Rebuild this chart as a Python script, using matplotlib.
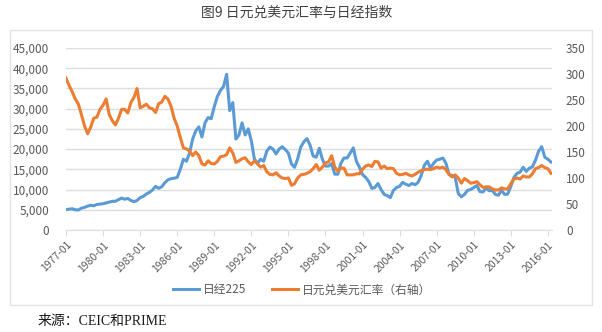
import numpy as np
import matplotlib.pyplot as plt
from matplotlib.patches import Rectangle
from matplotlib.ticker import FuncFormatter

plt.rcParams['font.family'] = ['Noto Sans CJK SC', 'DejaVu Sans']

# quarterly readings (Jan / Apr / Jul / Oct), 1977-01 .. 2016-04
nikkei = [
    5050, 5150, 5250, 5000,
    4950, 5400, 5600, 5900,
    6100, 6000, 6300, 6400,
    6500, 6700, 6900, 7100,
    7100, 7500, 7900, 7600,
    7800, 7300, 7000, 7300,
    8000, 8300, 8900, 9300,
    9900, 10800, 10300, 10700,
    11700, 12400, 12700, 12800,
    13000, 15000, 17500, 17000,
    19000, 22500, 24500, 25500,
    23000, 26500, 27800, 27500,
    30500, 33000, 34500, 35500,
    38500, 29500, 31500, 22500,
    23500, 26500, 23500, 25000,
    22000, 17500, 16500, 17500,
    17000, 19500, 20500, 20000,
    18800, 20000, 20600, 19900,
    19000, 16300, 15500, 17600,
    20500, 21800, 22600, 21000,
    18300, 18000, 20200, 17500,
    15800, 15800, 16400, 13800,
    13800, 16500, 17800, 17800,
    19000, 20300, 17000, 15500,
    13700, 13000, 12000, 10300,
    10500, 11500, 10000, 8800,
    8500, 8000, 9800, 10500,
    10800, 11800, 11300, 11000,
    11500, 11200, 11800, 13500,
    16000, 17000, 15300, 16500,
    17300, 17500, 17800, 16500,
    13700, 13500, 13000, 9000,
    8200, 8800, 9800, 10000,
    10500, 11000, 9500, 9400,
    10400, 9700, 9800, 8800,
    8600, 9800, 8800, 8900,
    10800, 13000, 14000, 14300,
    15500, 14500, 15300, 15600,
    17300, 19500, 20600, 18000,
    17500, 16800,
]
usdjpy = [
    292, 278, 266, 252,
    242, 222, 200, 185,
    198, 215, 217, 232,
    240, 252, 222, 210,
    202, 215, 232, 232,
    225, 245, 255, 272,
    235, 238, 242, 235,
    233, 226, 243, 246,
    257, 252, 238, 215,
    200, 178, 158, 156,
    152, 143, 150, 143,
    127, 125, 133, 128,
    127, 132, 141, 142,
    145, 158, 148, 130,
    133, 137, 139, 131,
    126, 133, 127, 121,
    124, 112, 107, 106,
    110, 104, 100, 99,
    100, 86, 89, 100,
    106, 107, 109, 112,
    118, 126, 115, 121,
    129, 131, 143, 121,
    113, 119, 119, 106,
    106, 106, 108, 108,
    117, 123, 125, 122,
    132, 131, 119, 123,
    118, 119, 118, 109,
    106, 107, 109, 106,
    104, 107, 111, 114,
    116, 117, 116, 118,
    121, 119, 121, 116,
    107, 102, 106, 100,
    90, 99, 95, 90,
    91, 93, 87, 82,
    83, 83, 79, 77,
    77, 81, 79, 79,
    89, 98, 100, 98,
    104, 102, 102, 108,
    118, 120, 124, 120,
    118, 109,
]
tick_labels = ['1977-01', '1980-01', '1983-01', '1986-01', '1989-01',
               '1992-01', '1995-01', '1998-01', '2001-01', '2004-01',
               '2007-01', '2010-01', '2013-01', '2016-01']

blue = '#5B9BD5'
orange = '#ED7D31'
grey_txt = '#595959'
grid_c = '#DDDDDD'

months = np.arange(len(nikkei)) * 3

fig = plt.figure(figsize=(6.02, 3.32), dpi=100)

# chart frame
fig.patches.append(Rectangle((10 / 602, 1 - 305 / 332), 582 / 602, 275 / 332,
                             transform=fig.transFigure, fill=False,
                             edgecolor='#E3E3E3', linewidth=1))

ax = fig.add_axes([66 / 602, 1 - 230 / 332, 486 / 602, 182 / 332])
ax2 = ax.twinx()

l1, = ax.plot(months, nikkei, color=blue, linewidth=2.2, label='日经225')
l2, = ax2.plot(months, usdjpy, color=orange, linewidth=2.2, label='日元兑美元汇率（右轴）')

ax.set_xlim(0, 472)
ax.set_ylim(0, 45000)
ax2.set_ylim(0, 350)
ax.set_yticks(np.arange(0, 45001, 5000))
ax2.set_yticks(np.arange(0, 351, 50))
ax.yaxis.set_major_formatter(FuncFormatter(lambda v, p: f'{int(v):,}'))
ax.grid(axis='y', color=grid_c, linewidth=1)
ax.set_axisbelow(True)

ax.set_xticks(np.arange(len(tick_labels)) * 36)
ax.set_xticklabels(tick_labels, rotation=45, ha='right', rotation_mode='anchor')

for a in (ax, ax2):
    for s in a.spines.values():
        s.set_visible(False)
ax.spines['bottom'].set_visible(True)
ax.spines['bottom'].set_color(grid_c)

ax.tick_params(axis='x', length=4, color=grid_c, labelsize=7.5, labelcolor=grey_txt, pad=3)
ax.tick_params(axis='y', length=0, labelsize=8.5, labelcolor=grey_txt, pad=12)
ax2.tick_params(axis='y', length=0, labelsize=8.5, labelcolor=grey_txt, pad=10)

fig.legend(handles=[l1, l2], loc='center', bbox_to_anchor=(302 / 602, 1 - 290 / 332),
           ncol=2, frameon=False, fontsize=8.5, labelcolor=grey_txt,
           handlelength=2.2, columnspacing=2.2, handletextpad=0.3)

fig.text(297 / 602, 1 - 13 / 332, '图9 日元兑美元汇率与日经指数', ha='center', va='center',
         fontsize=10, color='#404040')
fig.text(38 / 602, 1 - 322 / 332, '来源：CEIC和PRIME', ha='left', va='center',
         fontsize=10, color='#1a1a1a', family=['Liberation Serif', 'Noto Sans CJK SC'])

fig.savefig('out.png', dpi=100)
